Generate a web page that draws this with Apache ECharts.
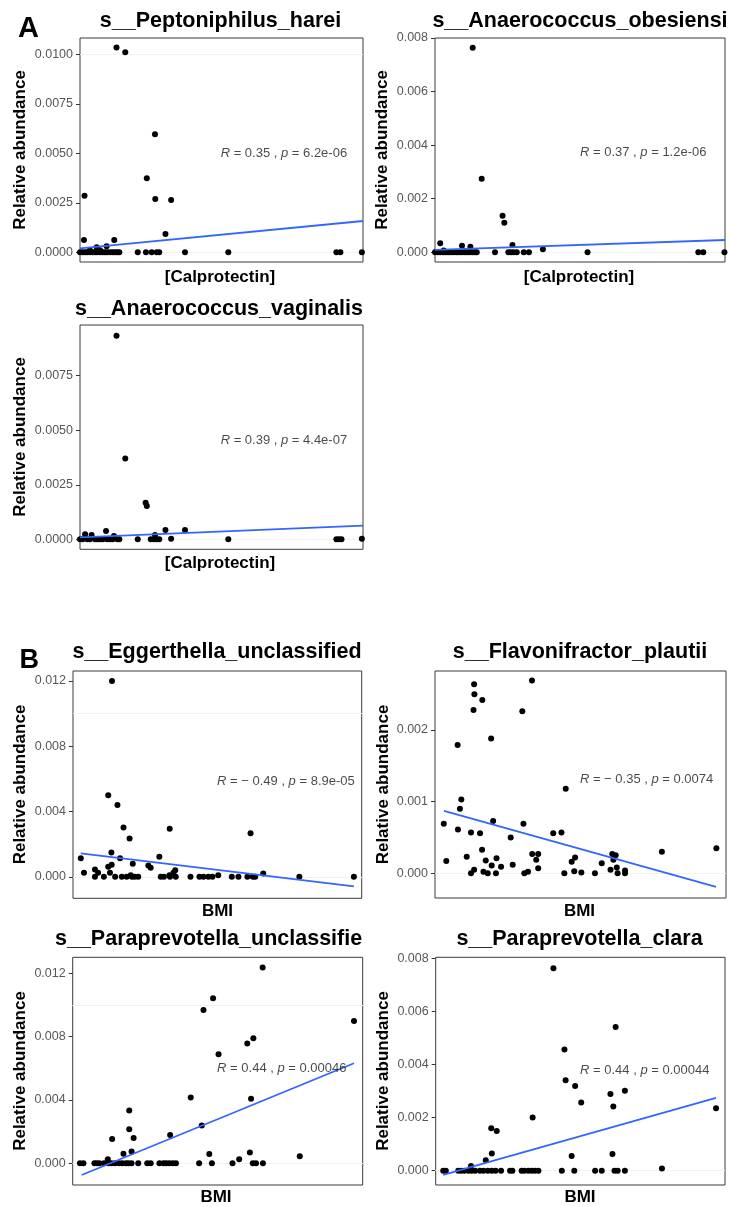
<!DOCTYPE html>
<html>
<head>
<meta charset="utf-8">
<script src="https://cdn.jsdelivr.net/npm/echarts/dist/echarts.min.js"></script>
<style>
html,body{margin:0;padding:0;background:#fff;}
#chart{width:731px;height:1207px;}
</style>
</head>
<body>
<div id="chart"></div>
<script>
// ---------------- DATA ----------------
// x values are positions along the (unlabelled) x axis, 0..100 = panel width
const titles = ['s__Peptoniphilus_harei','s__Anaerococcus_obesiensi','s__Anaerococcus_vaginalis',
  's__Eggerthella_unclassified','s__Flavonifractor_plautii','s__Paraprevotella_unclassified','s__Paraprevotella_clara'];
const xNames = ['[Calprotectin]','[Calprotectin]','[Calprotectin]','BMI','BMI','BMI','BMI'];
const yName = 'Relative abundance';
const statLabels = ['R = 0.35 , p = 6.2e-06','R = 0.37 , p = 1.2e-06','R = 0.39 , p = 4.4e-07',
  'R = \u2212 0.49 , p = 8.9e-05','R = \u2212 0.35 , p = 0.0074','R = 0.44 , p = 0.00046','R = 0.44 , p = 0.00044'];
const statPos = [[49.7,0.005015],[50.0,0.003739],[49.7,0.004552],[49.9,0.005825],[49.8,0.001316],[49.8,0.006019],[49.9,0.0038]];

const A1_x = [12.9,16.0,26.5,23.6,26.6,32.2,30.2,1.6,1.4,12.1,9.4,5.9,3.5,7.1,
  0,0.9,1.8,2.6,3.5,4.5,5.3,6.1,7.1,8.0,8.8,9.6,10.6,11.5,12.4,13.2,13.9,20.4,23.3,25.3,27.1,28.0,37.1,52.4,90.6,92.0,99.6];
const A1_y = [0.01034,0.0101,0.00596,0.00374,0.00269,0.00264,0.00093,0.00285,0.00062,0.00062,0.0003,0.00025,0.0001,0.0001,
  0,0,0,0,0,0,0,0,0,0,0,0,0,0,0,0,0,0,0,0,0,0,0,0,0,0,0];
const A1_fit = [[0,0.0002],[100,0.00158]];
const A1_ticks = [0,0.0025,0.005,0.0075,0.01];
const A1_minor = [0.00125,0.00375,0.00625,0.00875];

const A2_x = [13.0,16.1,23.3,23.9,26.7,1.8,9.3,12.2,37.2,3.0,
  0,0.9,1.8,2.8,3.7,4.6,5.5,6.4,7.4,8.3,9.2,10.1,11.0,11.9,12.9,13.8,14.4,20.7,25.3,26.2,27.1,28.2,30.6,32.4,52.6,90.8,92.5,99.8];
const A2_y = [0.00764,0.002745,0.001366,0.0011,0.00027,0.00034,0.00024,0.00021,0.00011,0.00007,
  0,0,0,0,0,0,0,0,0,0,0,0,0,0,0,0,0,0,0,0,0,0,0,0,0,0,0,0];
const A2_fit = [[0,0.000087],[100,0.00046]];
const A2_ticks = [0,0.002,0.004,0.006,0.008];
const A2_minor = [0.001,0.003,0.005,0.007];

const A3_x = [12.9,16.0,23.2,23.6,9.2,30.2,37.1,26.5,1.8,4.1,12.0,32.2,99.6,
  0,0.9,2.6,3.5,5.3,6.1,7.1,8.0,9.6,10.6,11.5,13.2,13.9,20.4,25.0,26.1,27.1,28.0,52.4,90.6,91.5,92.4];
const A3_y = [0.00933,0.0037,0.00168,0.00153,0.00038,0.00043,0.00043,0.0002,0.00023,0.0002,0.00015,0.00003,0.00003,
  0,0,0,0,0,0,0,0,0,0,0,0,0,0,0,0,0,0,0,0,0,0];
const A3_fit = [[0,0.00009],[100,0.00063]];
const A3_ticks = [0,0.0025,0.005,0.0075];
const A3_minor = [0.00125,0.00375,0.00625,0.00875];

const B1_x = [13.5,12.2,15.4,17.5,19.6,33.5,61.5,2.7,13.3,16.3,29.9,13.4,12.2,20.7,26.1,26.9,3.8,7.6,8.7,12.8,35.4,34.8,20.0,33.4,50.3,65.9,
  7.6,10.7,14.6,16.9,18.6,20.4,21.4,22.6,30.4,31.5,33.6,35.6,40.7,43.8,45.2,46.9,48.3,55.0,57.3,60.4,62.3,63.1,78.4,97.3];
const B1_y = [0.0120,0.00499,0.0044,0.00302,0.00234,0.00295,0.00267,0.00114,0.00149,0.00114,0.00122,0.00073,0.00061,0.0008,0.00069,0.00055,0.00024,0.00045,0.00024,0.00024,0.0004,0.00024,0.0001,0.0001,0.0001,0.0002,
  0,0,0,0,0,0,0,0,0,0,0,0,0,0,0,0,0,0,0,0,0,0,0,0];
const B1_fit = [[2.7,0.00143],[97.3,-0.00059]];
const B1_ticks = [0,0.004,0.008,0.012];
const B1_minor = [0.002,0.006,0.01];

const B2_x = [13.44,13.54,13.24,16.26,33.32,30.01,19.29,7.78,9.05,8.56,44.92,3.01,7.88,12.37,15.48,19.97,30.4,26.01,40.63,43.46,3.88,10.9,16.17,17.43,21.14,19.48,22.7,26.7,13.44,12.37,16.65,18.12,20.94,30.69,31.96,33.42,35.47,34.79,35.47,44.44,46.97,48.14,47.85,50.29,54.96,57.3,60.32,60.91,62.08,61.3,62.47,62.76,65.3,65.3,77.97,96.69];
const B2_y = [0.00264,0.0025,0.00228,0.00242,0.00269,0.00226,0.00188,0.00179,0.00103,0.0009,0.00118,0.00069,0.00061,0.00057,0.00056,0.00073,0.00069,0.0005,0.00056,0.00057,0.00017,0.00023,0.00033,0.00018,0.00021,0.00011,0.00009,0.00012,0.00005,0,0.00002,0,0,0,0.00002,0.00027,0.00027,0.00019,0.00007,0,0.00016,0.00022,0.00003,0.00001,0,0.00014,0.00005,0.00027,0.00025,0.00019,0.00008,0,0.00004,0,0.0003,0.00035];
const B2_fit = [[3.1,0.00087],[96.59,-0.00019]];
const B2_ticks = [0,0.001,0.002];
const B2_minor = [0.0005,0.0015,0.0025];

const B3_x = [65.5,48.4,45.1,97.0,50.3,60.2,62.3,61.5,40.7,44.5,33.6,19.5,19.5,21.0,13.6,17.5,20.3,47.1,61.1,57.4,12.1,78.3,
  2.5,3.7,7.5,8.3,9.2,10.8,12.3,13.4,14.6,16.0,17.1,18.4,19.2,20.3,22.6,25.7,26.9,29.9,31.3,32.2,33.3,34.5,35.6,43.6,48.0,55.1,62.1,63.2,65.6];
const B3_y = [0.01236,0.01042,0.00968,0.00899,0.00688,0.00756,0.00789,0.00408,0.00415,0.00238,0.00179,0.00333,0.00215,0.0016,0.00154,0.00061,0.00074,0.00059,0.00069,0.00025,0.00025,0.00044,
  0,0,0,0,0,0,0,0,0,0,0,0,0,0,0,0,0,0,0,0,0,0,0,0,0,0,0,0,0];
const B3_fit = [[3.1,-0.00074],[97.0,0.00632]];
const B3_ticks = [0,0.004,0.008,0.012];
const B3_minor = [0.002,0.006,0.01];

const B4_x = [40.7,62.2,44.5,44.9,48.2,50.3,60.4,65.4,61.4,33.5,19.2,21.1,19.4,17.3,47.0,61.1,96.9,78.2,12.2,
  2.6,3.5,7.8,8.8,9.9,11.3,12.4,13.6,15.3,16.5,18.0,19.4,20.7,22.6,25.7,26.5,29.7,30.6,32.0,33.2,34.3,35.5,43.6,47.9,55.1,57.4,61.8,62.9,65.4];
const B4_y = [0.00764,0.00542,0.00457,0.00341,0.0032,0.00257,0.00289,0.00302,0.00242,0.00201,0.0016,0.0015,0.00065,0.00039,0.00055,0.00063,0.00236,0.00008,0.00018,
  0,0,0,0,0,0,0,0,0,0,0,0,0,0,0,0,0,0,0,0,0,0,0,0,0,0,0,0,0];
const B4_fit = [[2.6,-0.00016],[96.9,0.00275]];
const B4_ticks = [0,0.002,0.004,0.006,0.008];
const B4_minor = [0.001,0.003,0.005,0.007];

// ---------------- LAYOUT (pixels / axis windows) ----------------
const layout = [
  {left:80,   top:38,    width:283,   height:224,   ymin:-0.00049,  ymax:0.010823, dec:4, tx:220.5, ty:21,    nx:220,   ny:277,    yx:20,    yy:150},
  {left:435,  top:38,    width:290,   height:224,   ymin:-0.000362, ymax:0.008,    dec:3, tx:580,   ty:21,    nx:579,   ny:277.5,  yx:382,   yy:150},
  {left:80,   top:325,   width:283,   height:224.3, ymin:-0.000458, ymax:0.009824, dec:4, tx:219,   ty:309,   nx:220,   ny:563,    yx:20,    yy:437},
  {left:73,   top:671,   width:288.7, height:227.3, ymin:-0.00132,  ymax:0.01261,  dec:3, tx:217,   ty:652.5, nx:217.5, ny:911.7,  yx:20,    yy:784.5},
  {left:435,  top:671,   width:291,   height:227,   ymin:-0.000345, ymax:0.0028235,dec:3, tx:580,   ty:652.5, nx:579.5, ny:911.7,  yx:383,   yy:784.5},
  {left:72.7, top:957.3, width:290,   height:227.7, ymin:-0.00137,  ymax:0.01301,  dec:3, tx:215,   ty:939.4, nx:216,   ny:1197.7, yx:20,    yy:1071},
  {left:435.7,top:957.3, width:289.3, height:227.7, ymin:-0.00054,  ymax:0.008053, dec:3, tx:579.5, ty:939.4, nx:580,   ny:1197,   yx:383,   yy:1071}
];

const xs = [A1_x,A2_x,A3_x,B1_x,B2_x,B3_x,B4_x];
const ys = [A1_y,A2_y,A3_y,B1_y,B2_y,B3_y,B4_y];
const fits = [A1_fit,A2_fit,A3_fit,B1_fit,B2_fit,B3_fit,B4_fit];
const ticks = [A1_ticks,A2_ticks,A3_ticks,B1_ticks,B2_ticks,B3_ticks,B4_ticks];
const minors = [A1_minor,A2_minor,A3_minor,B1_minor,B2_minor,B3_minor,B4_minor];

const FONT = '"Liberation Sans", Arial, Helvetica, sans-serif';

const grid = [], xAxis = [], yAxis = [], series = [], graphic = [];
layout.forEach((L, i) => {
  grid.push({left:L.left, top:L.top, width:L.width, height:L.height, show:true, z:0,
    borderColor:'#3a3a3a', borderWidth:1, backgroundColor:'#fff', containLabel:false});
  xAxis.push({type:'value', gridIndex:i, min:0, max:100,
    axisLine:{show:false}, axisTick:{show:false}, axisLabel:{show:false}, splitLine:{show:false}});
  const dec = L.dec;
  yAxis.push({type:'value', gridIndex:i, min:L.ymin, max:L.ymax,
    axisLine:{show:false},
    axisTick:{show:true, length:4, customValues:ticks[i], lineStyle:{color:'#333', width:1}},
    axisLabel:{show:true, customValues:ticks[i], margin:7, color:'#575757', fontSize:12.5, fontFamily:FONT,
      formatter:(v)=>Number(v).toFixed(dec)},
    splitLine:{show:false}, minorSplitLine:{show:false}});
  // grid lines via markLine on a background series (drawn below the points)
  const gl = [];
  ticks[i].forEach(v => gl.push({yAxis:v, lineStyle:{color:'#ebebeb', width:1.1, type:'solid'}}));
  minors[i].forEach(v => gl.push({yAxis:v, lineStyle:{color:'#f2f2f2', width:0.7, type:'solid'}}));
  series.push({type:'line', xAxisIndex:i, yAxisIndex:i, data:[], z:1, silent:true, animation:false,
    markLine:{z:1, silent:true, symbol:['none','none'], label:{show:false}, animation:false, data:gl}});
  // points
  series.push({type:'scatter', xAxisIndex:i, yAxisIndex:i, z:3, clip:false, animation:false, silent:true,
    symbol:'circle', symbolSize:6, itemStyle:{color:'#000', opacity:1},
    data: xs[i].map((x, k) => [x, ys[i][k]])});
  // fit line
  series.push({type:'line', xAxisIndex:i, yAxisIndex:i, z:4, showSymbol:false, symbol:'none', animation:false, silent:true,
    lineStyle:{color:'#3366FF', width:1.8}, data:fits[i]});
  // stat annotation
  const rich = statLabels[i].replace(/^R/, '{i|R}').replace(', p', ', {i|p}');
  series.push({type:'scatter', xAxisIndex:i, yAxisIndex:i, z:5, symbolSize:0, clip:false, animation:false, silent:true,
    data:[statPos[i]],
    label:{show:true, position:'right', distance:0, formatter:rich, color:'#1a1a1a', fontSize:13, fontFamily:FONT,
      rich:{i:{fontStyle:'italic', fontSize:13, color:'#1a1a1a', fontFamily:FONT}}}});

  // title
  const tStyle = {text:titles[i], fontSize:21.5, fontWeight:'bold', fontFamily:FONT, fill:'#000',
    align:'center', verticalAlign:'middle'};
  if (i === 5) {
    graphic.push({type:'text', x:55, y:L.ty, z:10, style:Object.assign({}, tStyle,
      {align:'left', width:312, overflow:'truncate', ellipsis:''})});
  } else {
    graphic.push({type:'text', x:L.tx, y:L.ty, z:10, style:tStyle});
  }
  // x-axis title
  graphic.push({type:'text', x:L.nx, y:L.ny, z:10, style:{text:xNames[i], fontSize:17, fontWeight:'bold',
    fontFamily:FONT, fill:'#000', align:'center', verticalAlign:'middle'}});
  // y-axis title
  graphic.push({type:'text', x:L.yx, y:L.yy, rotation:Math.PI/2, z:10, style:{text:yName, fontSize:17, fontWeight:'bold',
    fontFamily:FONT, fill:'#000', align:'center', verticalAlign:'middle'}});
});
// panel letters
graphic.push({type:'text', x:18, y:29, z:10, style:{text:'A', fontSize:29, fontWeight:'bold', fontFamily:FONT, fill:'#000', align:'left', verticalAlign:'middle'}});
graphic.push({type:'text', x:19.5, y:661, z:10, style:{text:'B', fontSize:27, fontWeight:'bold', fontFamily:FONT, fill:'#000', align:'left', verticalAlign:'middle'}});

const chart = echarts.init(document.getElementById('chart'), null, {renderer:'canvas'});
chart.setOption({backgroundColor:'#fff', animation:false, grid, xAxis, yAxis, series, graphic});
</script>
</body>
</html>
